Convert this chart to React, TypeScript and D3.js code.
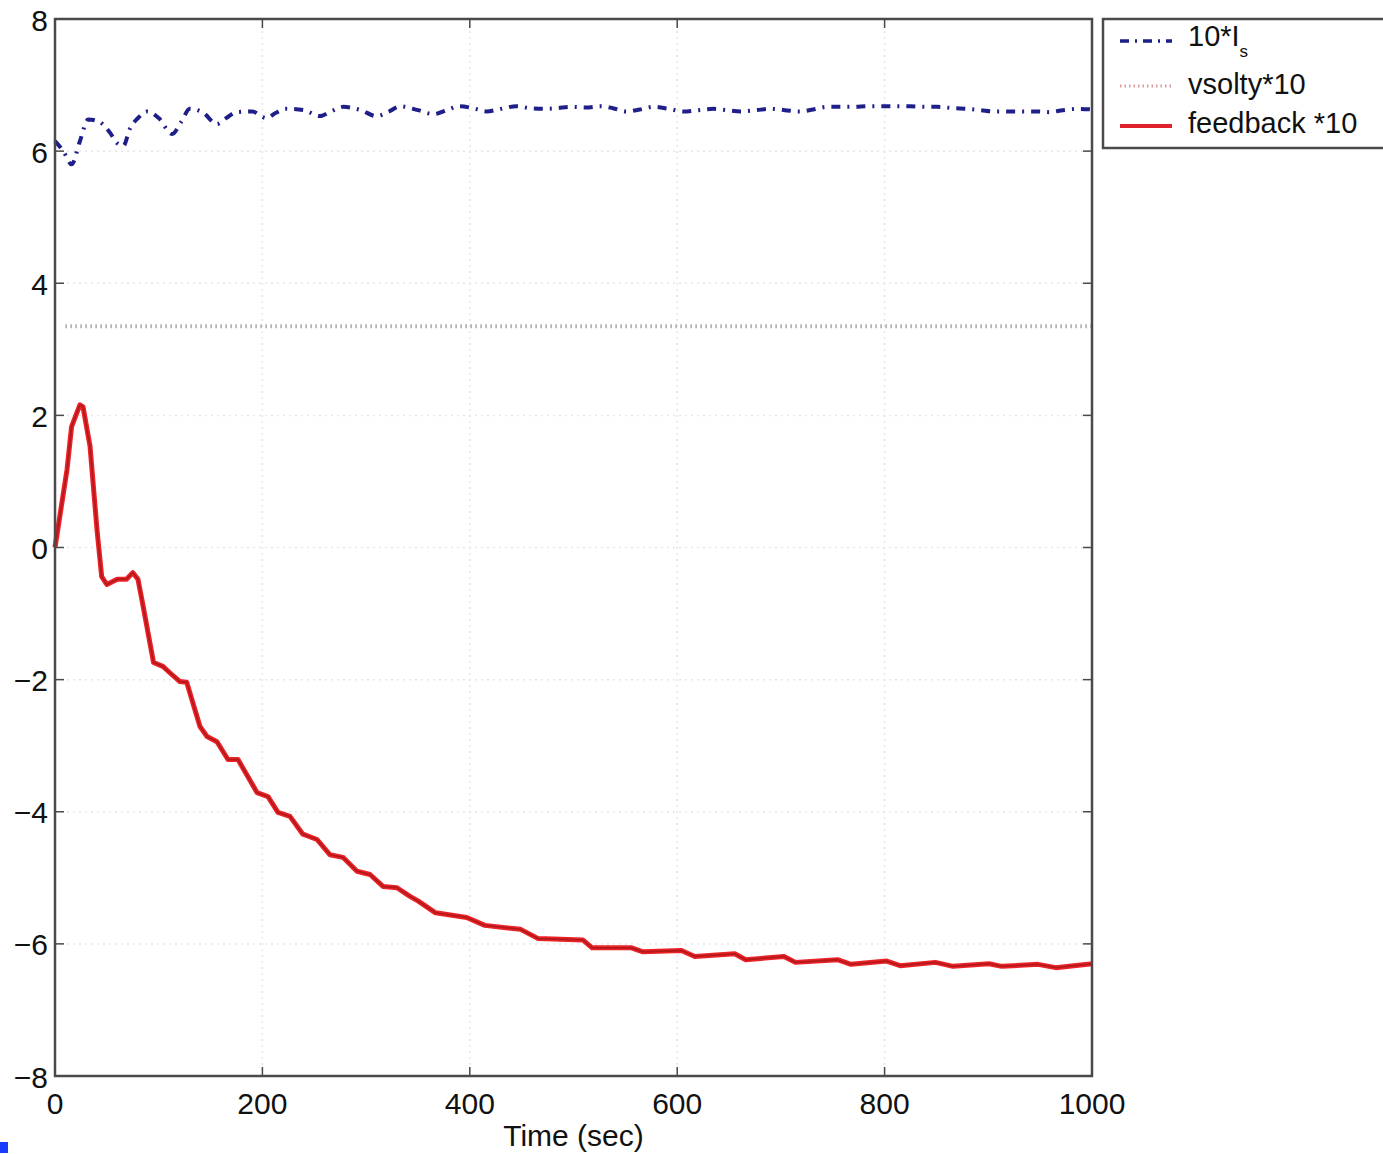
import React from "react";
import * as d3 from "d3";

const W = 1383;
const H = 1154;

const xTicks = [0, 200, 400, 600, 800, 1000];
const yTicks = [-8, -6, -4, -2, 0, 2, 4, 6, 8];
const xLabel = "Time (sec)";
const legendLabels = ["10*I", "vsolty*10", "feedback *10"];

// 10*I_s (blue dash-dot)
const isT = [0, 8, 16, 24, 32, 42, 53, 60, 66, 72, 80, 89, 100, 113, 122, 130, 143, 156, 165, 175, 190, 204, 213, 223, 240, 255, 266, 278, 295, 310, 322, 333, 350, 365, 378, 390, 403, 416, 430, 445, 458, 471, 484, 497, 512, 526, 538, 551, 564, 577, 592, 606, 620, 635, 648, 661, 676, 690, 704, 718, 731, 745, 758, 770, 784, 798, 811, 825, 838, 851, 866, 880, 893, 905, 920, 934, 947, 959, 972, 986, 1000];
const isV = [6.15, 6.0, 5.8, 6.15, 6.48, 6.45, 6.28, 6.12, 6.08, 6.33, 6.5, 6.6, 6.5, 6.26, 6.45, 6.64, 6.58, 6.41, 6.5, 6.59, 6.6, 6.5, 6.58, 6.64, 6.62, 6.53, 6.6, 6.67, 6.62, 6.53, 6.6, 6.68, 6.62, 6.56, 6.62, 6.68, 6.65, 6.6, 6.64, 6.68, 6.65, 6.64, 6.65, 6.67, 6.66, 6.68, 6.65, 6.6, 6.63, 6.67, 6.64, 6.6, 6.62, 6.64, 6.62, 6.6, 6.62, 6.64, 6.62, 6.6, 6.63, 6.67, 6.67, 6.67, 6.68, 6.68, 6.68, 6.68, 6.67, 6.67, 6.65, 6.64, 6.62, 6.6, 6.6, 6.6, 6.6, 6.59, 6.62, 6.64, 6.63];

// vsolty*10 (gray dotted)
const velT = [10, 250, 500, 750, 1000];
const velV = [3.35, 3.35, 3.35, 3.35, 3.35];

// feedback *10 (red)
const fbT = [0, 11.6, 16, 24, 27, 33.8, 40.5, 45, 50, 60, 69, 75, 80, 85, 95, 104, 111, 120.5, 127, 139.8, 146.6, 156.2, 166.8, 176.5, 194.8, 205.4, 215, 226.6, 239, 252.7, 265, 277.7, 291.2, 303.8, 316.3, 329.8, 342.3, 350, 367, 397, 414.5, 449, 466, 509, 518, 556, 567, 604, 617, 655.5, 666, 703, 714, 754.6, 767.6, 802, 815, 849, 866, 900.7, 913, 948, 965, 995.7, 1000];
const fbV = [0, 1.18, 1.83, 2.16, 2.13, 1.53, 0.27, -0.44, -0.56, -0.48, -0.48, -0.38, -0.48, -0.89, -1.74, -1.8, -1.9, -2.03, -2.04, -2.71, -2.86, -2.94, -3.21, -3.21, -3.71, -3.77, -4.01, -4.07, -4.34, -4.42, -4.65, -4.69, -4.9, -4.95, -5.13, -5.15, -5.28, -5.35, -5.53, -5.6, -5.72, -5.78, -5.92, -5.94, -6.06, -6.06, -6.12, -6.1, -6.19, -6.15, -6.24, -6.19, -6.28, -6.24, -6.31, -6.26, -6.33, -6.28, -6.34, -6.3, -6.34, -6.31, -6.36, -6.31, -6.3];

const FONT = "'Liberation Sans', Arial, Helvetica, sans-serif";

export default function App() {
  const left = 55, right = 1092, top = 19, bottom = 1076;
  const x = d3.scaleLinear().domain([0, 1000]).range([left, right]);
  const y = d3.scaleLinear().domain([-8, 8]).range([bottom, top]);
  const line = d3.line<[number, number]>().x((d) => x(d[0])).y((d) => y(d[1])).curve(d3.curveMonotoneX);
  const lineLin = d3.line<[number, number]>().x((d) => x(d[0])).y((d) => y(d[1]));

  const isData = isT.map((t, i) => [t, isV[i]] as [number, number]);
  const velData = velT.map((t, i) => [t, velV[i]] as [number, number]);
  const fbData = fbT.map((t, i) => [t, fbV[i]] as [number, number]);

  const axisColor = "#4a4a4a";
  const tickLen = 9;

  return (
    <svg width={W} height={H} style={{ position: "absolute", left: 0, top: 0, background: "#fff" }}>
      <rect x={0} y={0} width={W} height={H} fill="#fff" />
      {/* grid */}
      {xTicks.slice(1, -1).map((t) => (
        <line key={"gx" + t} x1={x(t)} x2={x(t)} y1={top} y2={bottom} stroke="#e6e6e6" strokeWidth={1.5} strokeDasharray="2,4" />
      ))}
      {yTicks.slice(1, -1).map((t) => (
        <line key={"gy" + t} x1={left} x2={right} y1={y(t)} y2={y(t)} stroke="#e6e6e6" strokeWidth={1.5} strokeDasharray="2,4" />
      ))}

      {/* series */}
      <path d={lineLin(velData) || ""} fill="none" stroke="#a9a9a9" strokeWidth={4} strokeDasharray="1.5,3.5" />
      <path d={line(isData) || ""} fill="none" stroke="#1f1f8a" strokeWidth={4} strokeDasharray="9,7,2,7" />
      <path d={lineLin(fbData) || ""} fill="none" stroke="#ec2228" strokeWidth={5} strokeLinejoin="round" />
      <path d={lineLin(fbData) || ""} fill="none" stroke="#9a1515" strokeWidth={1.8} strokeOpacity={0.7} strokeLinejoin="round" />

      {/* axes box */}
      <rect x={left} y={top} width={right - left} height={bottom - top} fill="none" stroke={axisColor} strokeWidth={2.5} />
      {xTicks.map((t) => (
        <g key={"tx" + t}>
          <line x1={x(t)} x2={x(t)} y1={bottom} y2={bottom - tickLen} stroke={axisColor} strokeWidth={1.5} />
          <line x1={x(t)} x2={x(t)} y1={top} y2={top + tickLen} stroke={axisColor} strokeWidth={1.5} />
          <text x={x(t)} y={1103} fontFamily={FONT} fontSize={30} textAnchor="middle" dominantBaseline="central" fill="#111">
            {t}
          </text>
        </g>
      ))}
      {yTicks.map((t) => (
        <g key={"ty" + t}>
          <line x1={left} x2={left + tickLen} y1={y(t)} y2={y(t)} stroke={axisColor} strokeWidth={1.5} />
          <line x1={right} x2={right - tickLen} y1={y(t)} y2={y(t)} stroke={axisColor} strokeWidth={1.5} />
          <text x={48} y={y(t) + 1} fontFamily={FONT} fontSize={30} textAnchor="end" dominantBaseline="central" fill="#111">
            {t < 0 ? "\u2212" + Math.abs(t) : String(t)}
          </text>
        </g>
      ))}
      <text x={(left + right) / 2} y={1135} fontFamily={FONT} fontSize={30} textAnchor="middle" dominantBaseline="central" fill="#111">
        {xLabel}
      </text>

      {/* legend */}
      <rect x={1103} y={19} width={290} height={129} fill="#fff" stroke={axisColor} strokeWidth={2.5} />
      <line x1={1120} x2={1172} y1={41} y2={41} stroke="#1f1f8a" strokeWidth={3.5} strokeDasharray="9,6,2,6" />
      <text x={1188} y={36} fontFamily={FONT} fontSize={29} dominantBaseline="central" fill="#111">
        {legendLabels[0]}
        <tspan fontSize={17} dy={15}>s</tspan>
      </text>
      <line x1={1120} x2={1172} y1={86} y2={86} stroke="#e09a9a" strokeWidth={3} strokeDasharray="1.5,3" />
      <text x={1188} y={84} fontFamily={FONT} fontSize={29} dominantBaseline="central" fill="#111">
        {legendLabels[1]}
      </text>
      <line x1={1120} x2={1172} y1={126} y2={126} stroke="#e0202a" strokeWidth={4} />
      <text x={1188} y={123} fontFamily={FONT} fontSize={29} dominantBaseline="central" fill="#111">
        {legendLabels[2]}
      </text>

      {/* small artifact at bottom-left */}
      <rect x={0} y={1142} width={8} height={11} fill="#1a3cff" />
    </svg>
  );
}
